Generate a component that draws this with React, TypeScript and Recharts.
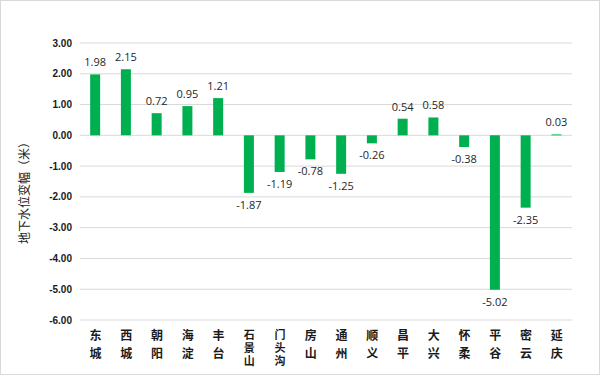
import React from "react";
import {
  BarChart,
  Bar,
  XAxis,
  YAxis,
  CartesianGrid,
  LabelList,
} from "recharts";

// district names and groundwater level change (m)
const districts = [
  "东城", "西城", "朝阳", "海淀", "丰台", "石景山", "门头沟", "房山",
  "通州", "顺义", "昌平", "大兴", "怀柔", "平谷", "密云", "延庆",
];
const levelChange = [
  1.98, 2.15, 0.72, 0.95, 1.21, -1.87, -1.19, -0.78,
  -1.25, -0.26, 0.54, 0.58, -0.38, -5.02, -2.35, 0.03,
];
const yTicks = [-6, -5, -4, -3, -2, -1, 0, 1, 2, 3];

const data = districts.map((name, i) => ({ name, value: levelChange[i] }));

const CJK = '"Noto Sans CJK SC", "Noto Sans", sans-serif';

// names are written top to bottom, one glyph under the other
const DistrictTick = (props: any) => {
  const { x, payload } = props;
  const long = String(payload.value).length > 2;
  return (
    <text
      x={x}
      y={328}
      writingMode="vertical-rl"
      style={{ writingMode: "vertical-rl" }}
      fontSize={long ? 11 : 12}
      letterSpacing={long ? 2 : 6}
      fontWeight="bold"
      fontFamily={CJK}
      fill="#1a1a1a"
    >
      {payload.value}
    </text>
  );
};

const ValueLabel = (props: any) => {
  const { x, y, width, height, value } = props;
  const top = Math.min(y, y + height);
  const bottom = Math.max(y, y + height);
  const ly = value >= 0 ? top - 8 : bottom + 16;
  return (
    <text
      x={x + width / 2}
      y={ly}
      textAnchor="middle"
      fontSize={11}
      fontFamily='"Open Sans", "Noto Sans", sans-serif'
      fill="#262626"
    >
      {value.toFixed(2)}
    </text>
  );
};

const App = () => {
  return (
    <div
      style={{
        position: "absolute",
        left: 0,
        top: 0,
        width: 600,
        height: 375,
        boxSizing: "border-box",
        border: "1px solid #d9d9d9",
        background: "#ffffff",
      }}
    >
      <BarChart
        width={598}
        height={373}
        data={data}
        margin={{ top: 42, right: 27, bottom: 24, left: 19 }}
        barCategoryGap="33%"
      >
        <CartesianGrid vertical={false} stroke="#d9d9d9" />
        <XAxis
          dataKey="name"
          axisLine={false}
          tickLine={false}
          interval={0}
          height={30}
          tick={<DistrictTick />}
        />
        <YAxis
          domain={[-6, 3]}
          ticks={yTicks}
          width={60}
          axisLine={false}
          tickLine={false}
          tickMargin={2}
          tickFormatter={(v: number) => v.toFixed(2)}
          tick={{
            fontSize: 10,
            fontWeight: "bold",
            fill: "#1a1a1a",
            fontFamily: '"Liberation Sans", Arial, sans-serif',
          }}
          label={{
            content: () => (
              <text
                x={0}
                y={0}
                transform="translate(28,189) rotate(-90)"
                textAnchor="middle"
                fontSize={12}
                fontFamily={CJK}
                fill="#1a1a1a"
              >
                地下水位变幅（米）
              </text>
            ),
          }}
        />
        <Bar dataKey="value" fill="#00B050" isAnimationActive={false}>
          <LabelList dataKey="value" content={<ValueLabel />} />
        </Bar>
      </BarChart>
    </div>
  );
};

export default App;
